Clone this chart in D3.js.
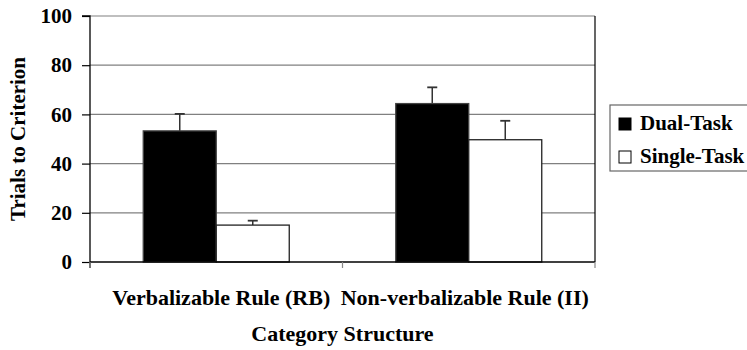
<!DOCTYPE html>
<html><head><meta charset="utf-8">
<script src="https://cdn.jsdelivr.net/npm/d3@7"></script>
</head><body style="margin:0;background:#fff">
<svg id="c" width="747" height="350" style="display:block"></svg>
<script>
const categories = ["Verbalizable Rule (RB)", "Non-verbalizable Rule (II)"];
const seriesNames = ["Dual-Task", "Single-Task"];
const dualValues = [53.3, 64.4];
const dualErrors = [6.9, 6.6];
const singleValues = [15.0, 49.7];
const singleErrors = [1.8, 7.7];
const yTicks = [0, 20, 40, 60, 80, 100];

const FONT = '"Liberation Serif"';
const svg = d3.select("#c");
const L = 90, R = 595, T = 16, B = 262;
const x = d3.scaleBand().domain(categories).range([L, R]).paddingInner(0).paddingOuter(0);
const y = d3.scaleLinear().domain([0, 100]).range([B, T]);
const sub = d3.scaleBand().domain(seriesNames).range([0, 146]);
const subOffset = (x.bandwidth() - 146) / 2;

const txt = sel => sel.attr("font-family", FONT).attr("font-weight", "bold").attr("fill", "#000");

svg.append("g").selectAll("line").data(yTicks.filter(d => d > 0)).join("line")
  .attr("x1", L).attr("x2", R).attr("y1", d => y(d)).attr("y2", d => y(d))
  .attr("stroke", "#808080").attr("stroke-width", 1.2);
svg.append("line").attr("x1", R).attr("x2", R).attr("y1", T).attr("y2", B).attr("stroke", "#000").attr("stroke-width", 1.2);

const data = [];
categories.forEach((c, i) => {
  data.push({c, s: seriesNames[0], v: dualValues[i], e: dualErrors[i]});
  data.push({c, s: seriesNames[1], v: singleValues[i], e: singleErrors[i]});
});
const fills = {"Dual-Task": "#000", "Single-Task": "#fff"};

const bx = d => x(d.c) + subOffset + sub(d.s);
const eg = svg.append("g");
eg.selectAll("line.v").data(data).join("line")
  .attr("x1", d => bx(d) + sub.bandwidth() / 2).attr("x2", d => bx(d) + sub.bandwidth() / 2)
  .attr("y1", d => y(d.v)).attr("y2", d => y(d.v + d.e))
  .attr("stroke", "#333").attr("stroke-width", 1.5);
eg.selectAll("line.c").data(data).join("line")
  .attr("x1", d => bx(d) + sub.bandwidth() / 2 - 5).attr("x2", d => bx(d) + sub.bandwidth() / 2 + 5)
  .attr("y1", d => y(d.v + d.e)).attr("y2", d => y(d.v + d.e))
  .attr("stroke", "#333").attr("stroke-width", 1.8);
svg.append("g").selectAll("rect").data(data).join("rect")
  .attr("x", d => bx(d)).attr("width", sub.bandwidth())
  .attr("y", d => y(d.v)).attr("height", d => B - y(d.v))
  .attr("fill", d => fills[d.s]).attr("stroke", d => d.s === "Dual-Task" ? "#444" : "#222").attr("stroke-width", 1.3);

const ya = svg.append("g").attr("transform", `translate(${L},0)`)
  .call(d3.axisLeft(y).tickValues(yTicks).tickSize(8).tickPadding(10));
ya.attr("font-family", FONT).attr("font-size", 21);
ya.select(".domain").attr("stroke", "#000").attr("stroke-width", 1.3).attr("d", `M-8,${T}H0V${B + 6}`);
ya.selectAll(".tick line").attr("stroke", "#000").attr("stroke-width", 1.2);
ya.selectAll(".tick text").call(txt).attr("font-size", 21);

svg.append("line").attr("x1", L).attr("x2", R).attr("y1", B).attr("y2", B).attr("stroke", "#000").attr("stroke-width", 1.3);
const bounds = [L, x(categories[1]), R];
svg.append("g").selectAll("line").data(bounds).join("line")
  .attr("x1", d => d).attr("x2", d => d).attr("y1", B).attr("y2", B + 6)
  .attr("stroke", "#888").attr("stroke-width", 1.2);

const labelShift = [5, -4];
svg.append("g").selectAll("text").data(categories).join("text")
  .attr("x", (d, i) => x(d) + x.bandwidth() / 2 + labelShift[i]).attr("y", 305)
  .attr("text-anchor", "middle").attr("font-size", 22).call(txt).text(d => d);

svg.append("text").attr("x", (L + R) / 2).attr("y", 341).attr("text-anchor", "middle").attr("font-size", 22).call(txt).text("Category Structure");
svg.append("text").attr("transform", `translate(25,${(T + B) / 2}) rotate(-90)`).attr("text-anchor", "middle").attr("font-size", 21).call(txt).text("Trials to Criterion");

const lg = svg.append("g");
lg.append("rect").attr("x", 610).attr("y", 105).attr("width", 160).attr("height", 66).attr("fill", "#fff").attr("stroke", "#666").attr("stroke-width", 1.2);
const li = lg.selectAll("g").data(seriesNames).join("g").attr("transform", (d, i) => `translate(619,${118 + i * 33})`);
li.append("rect").attr("width", 12).attr("height", 12).attr("fill", d => fills[d]).attr("stroke", "#000").attr("stroke-width", 1);
li.append("text").attr("x", 21).attr("y", 12).attr("font-size", 21).call(txt).text(d => d);
</script></body></html>
